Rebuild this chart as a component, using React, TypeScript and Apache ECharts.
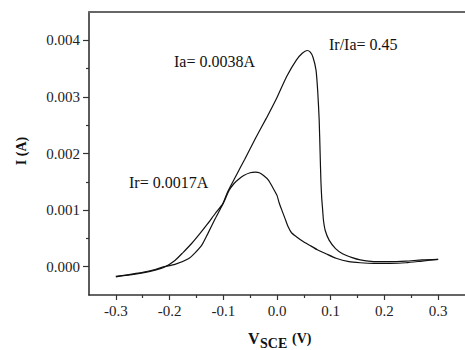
import React, { useEffect, useRef } from "react";
import * as echarts from "echarts";

// Forward (anodic) scan: potential (V vs SCE) and current (A)
const forwardV = [
  -0.3, -0.27, -0.245, -0.227, -0.21, -0.19, -0.175, -0.159, -0.144, -0.129, -0.115,
  -0.101, -0.092, -0.075, -0.06, -0.04, -0.02, 0.0, 0.018, 0.036, 0.047, 0.056,
  0.062, 0.067, 0.0727, 0.0758, 0.0785, 0.0803, 0.0818, 0.0832, 0.085, 0.0865, 0.0898,
  0.097, 0.109, 0.122, 0.14, 0.155, 0.18, 0.21, 0.24, 0.27, 0.3,
];
const forwardI = [
  -0.00017, -0.00014, -0.0001, -0.00006, -0.00001, 0.00011, 0.00025, 0.00041, 0.00058,
  0.00076, 0.00094, 0.00111, 0.00132, 0.00163, 0.0019, 0.00227, 0.00262, 0.00299,
  0.00336, 0.00365, 0.00377, 0.00382, 0.00379, 0.0037, 0.00347, 0.0031, 0.0026,
  0.002, 0.0015, 0.00122, 0.001, 0.00082, 0.00064, 0.00047, 0.00032, 0.00023, 0.00016,
  0.00012, 0.00009, 0.00009, 0.0001, 0.00012, 0.00013,
];

// Reverse scan
const reverseV = [
  0.3, 0.27, 0.24, 0.21, 0.18, 0.155, 0.134, 0.11, 0.091, 0.075, 0.0605, 0.048, 0.036,
  0.027, 0.021, 0.015, 0.009, 0.004, 0.0, -0.008, -0.016, -0.025, -0.033, -0.04, -0.05,
  -0.062, -0.072, -0.08, -0.089, -0.1, -0.1165, -0.129, -0.14, -0.153, -0.165, -0.19,
  -0.21, -0.227, -0.25, -0.27, -0.3,
];
const reverseI = [
  0.00013, 0.0001, 0.00007, 0.00006, 0.00006, 0.00007, 0.00009, 0.00015, 0.00023, 0.0003,
  0.00038, 0.00045, 0.00053, 0.0006, 0.0007, 0.00085, 0.001, 0.00113, 0.00126, 0.0014,
  0.00153, 0.00161, 0.00166, 0.00167, 0.00166, 0.00161, 0.00154, 0.00147, 0.00135,
  0.00112, 0.00082, 0.00058, 0.00038, 0.00024, 0.00014, 0.00004, 0.0, -0.00005, -0.0001,
  -0.00013, -0.00018,
];

const xTickValues = [-0.3, -0.2, -0.1, 0, 0.1, 0.2, 0.3];
const xMinorTicks = [-0.25, -0.15, -0.05, 0.05, 0.15, 0.25];
const yTickValues = [0, 0.001, 0.002, 0.003, 0.004];
const yMinorTicks = [0.0005, 0.0015, 0.0025, 0.0035];

const annotations = [
  { text: "Ia= 0.0038A", x: 174, y: 62 },
  { text: "Ir/Ia= 0.45", x: 329, y: 45 },
  { text: "Ir= 0.0017A", x: 129, y: 183 },
];

const FONT = "'Liberation Serif', 'Times New Roman', serif";

export default function App() {
  const ref = useRef<HTMLDivElement>(null);

  useEffect(() => {
    if (!ref.current) return;
    const chart = echarts.init(ref.current, null, { renderer: "svg" });

    const fwd = forwardV.map((v, i) => [v, forwardI[i]]);
    const rev = reverseV.map((v, i) => [v, reverseI[i]]);

    const labelStyle = { fontFamily: FONT, fontSize: 15, color: "#222" };
    const axisColor = "#333";

    chart.setOption({
      animation: false,
      backgroundColor: "#fff",
      grid: { left: 89, top: 12, width: 382, height: 283, containLabel: false },
      xAxis: [
        {
          type: "value",
          min: -0.35,
          max: 0.35,
          position: "bottom",
          axisLine: { show: true, onZero: false, lineStyle: { color: axisColor, width: 1.6 } },
          axisTick: {
            show: true,
            customValues: xTickValues,
            length: 5,
            inside: false,
            lineStyle: { color: axisColor, width: 1.2 },
          },
          axisLabel: {
            show: true,
            customValues: xTickValues,
            formatter: (v: number) => v.toFixed(1),
            margin: 8,
            ...labelStyle,
          },
          splitLine: { show: false },
        },
        {
          type: "value",
          min: -0.35,
          max: 0.35,
          position: "bottom",
          axisLine: { show: false, onZero: false },
          axisTick: {
            show: true,
            customValues: xMinorTicks,
            length: 3,
            inside: false,
            lineStyle: { color: axisColor, width: 1.2 },
          },
          axisLabel: { show: false },
          splitLine: { show: false },
        },
        {
          type: "value",
          min: -0.35,
          max: 0.35,
          position: "top",
          axisLine: { show: true, onZero: false, lineStyle: { color: "#666", width: 2 } },
          axisTick: { show: false },
          axisLabel: { show: false },
          splitLine: { show: false },
        },
      ],
      yAxis: [
        {
          type: "value",
          min: -0.0005,
          max: 0.0045,
          position: "left",
          axisLine: { show: true, onZero: false, lineStyle: { color: axisColor, width: 1.6 } },
          axisTick: {
            show: true,
            customValues: yTickValues,
            length: 6,
            inside: false,
            lineStyle: { color: axisColor, width: 1.2 },
          },
          axisLabel: {
            show: true,
            customValues: yTickValues,
            formatter: (v: number) => v.toFixed(3),
            margin: 9,
            ...labelStyle,
          },
          splitLine: { show: false },
        },
        {
          type: "value",
          min: -0.0005,
          max: 0.0045,
          position: "left",
          axisLine: { show: false, onZero: false },
          axisTick: {
            show: true,
            customValues: yMinorTicks,
            length: 3,
            inside: false,
            lineStyle: { color: axisColor, width: 1.2 },
          },
          axisLabel: { show: false },
          splitLine: { show: false },
        },
      ],
      series: [
        {
          name: "Forward scan",
          type: "line",
          data: fwd,
          xAxisIndex: 0,
          yAxisIndex: 0,
          showSymbol: false,
          smooth: 0.2,
          lineStyle: { color: "#111", width: 1.2 },
        },
        {
          name: "Reverse scan",
          type: "line",
          data: rev,
          xAxisIndex: 0,
          yAxisIndex: 0,
          showSymbol: false,
          smooth: 0.2,
          lineStyle: { color: "#111", width: 1.2 },
        },
      ],
      graphic: [
        ...annotations.map((a) => ({
          type: "text",
          left: a.x,
          top: a.y - 9,
          style: { text: a.text, fontFamily: FONT, fontSize: 16, fill: "#111" },
        })),
        {
          type: "text",
          x: 21,
          y: 151,
          rotation: Math.PI / 2,
          style: {
            text: "I (A)",
            fontFamily: FONT,
            fontSize: 14,
            fontWeight: "bold",
            fill: "#111",
            align: "center",
            verticalAlign: "middle",
          },
        },
        {
          type: "text",
          x: 248,
          y: 338,
          style: {
            text: "V",
            fontFamily: FONT,
            fontSize: 16,
            fontWeight: "bold",
            fill: "#111",
            align: "left",
            verticalAlign: "middle",
          },
        },
        {
          type: "text",
          x: 260,
          y: 343,
          style: {
            text: "SCE",
            fontFamily: FONT,
            fontSize: 14,
            fontWeight: "bold",
            fill: "#111",
            align: "left",
            verticalAlign: "middle",
          },
        },
        {
          type: "text",
          x: 292,
          y: 338,
          style: {
            text: "(V)",
            fontFamily: FONT,
            fontSize: 14,
            fontWeight: "bold",
            fill: "#111",
            align: "left",
            verticalAlign: "middle",
          },
        },
      ],
    });

    return () => chart.dispose();
  }, []);

  return <div ref={ref} style={{ width: 465, height: 350, position: "absolute", left: 0, top: 0 }} />;
}
